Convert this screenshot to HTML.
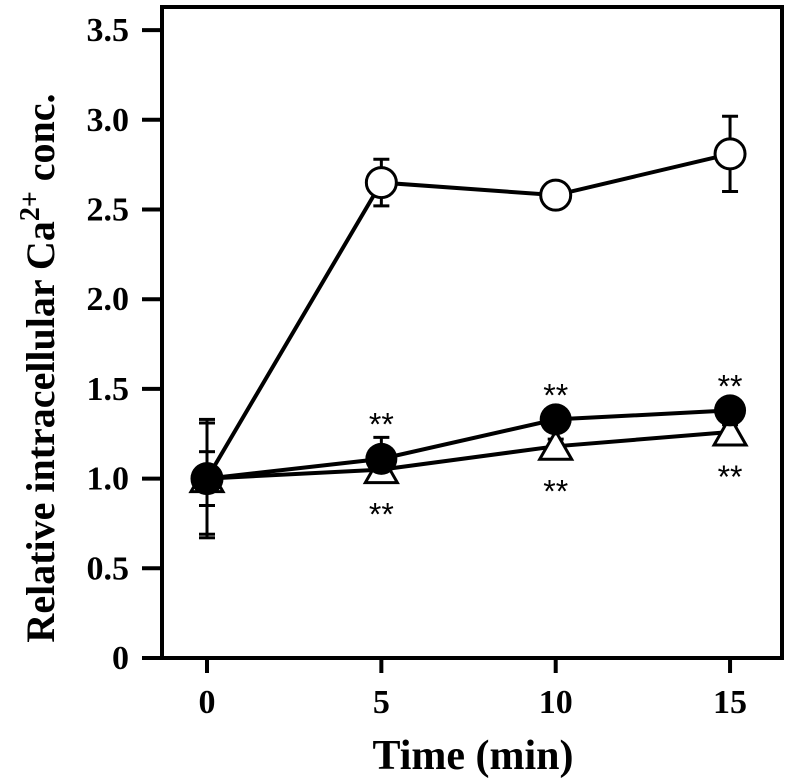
<!DOCTYPE html>
<html><head><meta charset="utf-8"><style>
html,body{margin:0;padding:0;background:#fff;}
svg{display:block;font-family:"Liberation Serif",serif;}
</style></head><body>
<svg id="chart" width="786" height="781" viewBox="0 0 786 781"></svg>
<script>
const xValues=[0,5,10,15];
const openVals=[1.0,2.65,2.58,2.81];
const openErr=[0.33,0.13,0.05,0.21];
const filledVals=[1.0,1.11,1.33,1.38];
const filledErr=[0.15,0.12,0.06,0.06];
const triVals=[1.0,1.05,1.18,1.26];
const triErr=[0.31,0.04,0.04,0.04];
const yTicks=[0,0.5,1.0,1.5,2.0,2.5,3.0,3.5];
const yTickLabels=["0","0.5","1.0","1.5","2.0","2.5","3.0","3.5"];
const xTicks=[0,5,10,15];
const xTickLabels=["0","5","10","15"];
const starsAbove=[5,10,15];
const starsBelow=[5,10,15];

const NS="http://www.w3.org/2000/svg";
const svg=document.getElementById('chart');
const L=162,R=782,T=7,B=658;
function xs(v){return 207+v*34.87;}
function ys(v){return B-v*179.4;}
function el(tag,attrs,parent){const e=document.createElementNS(NS,tag);for(const k in attrs)e.setAttribute(k,attrs[k]);(parent||svg).appendChild(e);return e;}

const frame=el('rect',{x:L,y:T,width:R-L,height:B-T,fill:'none',stroke:'#000','stroke-width':4});



yTicks.forEach((v,i)=>{
  const t=el('line',{x1:142,x2:L,y1:ys(v),y2:ys(v),stroke:'#000','stroke-width':4});
  
  
  const l=el('text',{x:129,y:ys(v)+11,'text-anchor':'end','font-size':34,'font-weight':'bold'});
  l.textContent=yTickLabels[i];
  
  
});
xTicks.forEach((v,i)=>{
  const t=el('line',{x1:xs(v),x2:xs(v),y1:B,y2:673,stroke:'#000','stroke-width':4});
  
  
  const l=el('text',{x:xs(v),y:713,'text-anchor':'middle','font-size':34,'font-weight':'bold'});
  l.textContent=xTickLabels[i];
  
  
});
const xt=el('text',{x:473,y:769,'text-anchor':'middle','font-size':42,'font-weight':'bold'});
xt.textContent='Time (min)';


const yt=el('text',{transform:'translate(54,368) rotate(-90)','text-anchor':'middle','font-size':40,'font-weight':'bold'});
yt.innerHTML='Relative intracellular Ca<tspan dy="-15" font-size="28">2+</tspan><tspan dy="15"> conc.</tspan>';



function errBars(vals,errs,name){
  vals.forEach((v,i)=>{
    const x=xs(xValues[i]);
    const g=el('g',{stroke:'#000','stroke-width':3});
    
    
    el('line',{x1:x,x2:x,y1:ys(v+errs[i]),y2:ys(v-errs[i])},g);
    el('line',{x1:x-8,x2:x+8,y1:ys(v+errs[i]),y2:ys(v+errs[i])},g);
    el('line',{x1:x-8,x2:x+8,y1:ys(v-errs[i]),y2:ys(v-errs[i])},g);
  });
}
function line(vals,name){
  const p=el('polyline',{points:vals.map((v,i)=>xs(xValues[i])+','+ys(v)).join(' '),fill:'none',stroke:'#000','stroke-width':4});
  
  
}
errBars(triVals,triErr,'triangle');
errBars(filledVals,filledErr,'filled');
errBars(openVals,openErr,'open');
line(triVals,'triangle');
line(filledVals,'filled');
line(openVals,'open');
triVals.forEach((v,i)=>{
  const x=xs(xValues[i]),y=ys(v);
  const p=el('polygon',{points:`${x},${y-15} ${x-16},${y+13} ${x+16},${y+13}`,fill:'#fff',stroke:'#000','stroke-width':3});
  
  
});
openVals.forEach((v,i)=>{
  const c=el('circle',{cx:xs(xValues[i]),cy:ys(v),r:15,fill:'#fff',stroke:'#000','stroke-width':3});
  
  
});
filledVals.forEach((v,i)=>{
  const c=el('circle',{cx:xs(xValues[i]),cy:ys(v),r:16,fill:'#000'});
  
  
});
starsAbove.forEach(t=>{
  const i=xValues.indexOf(t);
  const s=el('text',{x:xs(t),y:ys(filledVals[i]+filledErr[i])-2,'text-anchor':'middle','font-size':32,'font-family':'Liberation Sans, sans-serif'});
  s.textContent='**';
  
  
});
starsBelow.forEach(t=>{
  const i=xValues.indexOf(t);
  const s=el('text',{x:xs(t),y:ys(triVals[i])+56,'text-anchor':'middle','font-size':32,'font-family':'Liberation Sans, sans-serif'});
  s.textContent='**';
  
  
});
</script>
</body></html>
